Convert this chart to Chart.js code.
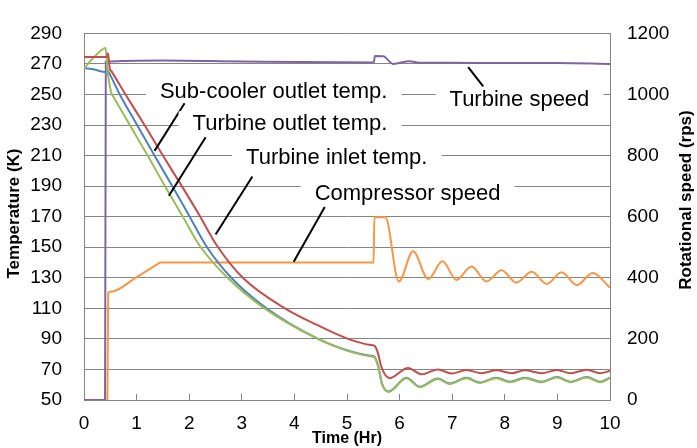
<!DOCTYPE html>
<html>
<head>
<meta charset="utf-8">
<script src="https://cdn.jsdelivr.net/npm/chart.js@4.4.1/dist/chart.umd.min.js"></script>
<style>
  html, body { margin: 0; padding: 0; background: #fff; }
  #wrap { width: 697px; height: 448px; position: relative; }
</style>
</head>
<body>
<div id="wrap"><canvas id="myChart"></canvas></div>
<script>
// [time (Hr), temperature (K)]
const subCoolerOutlet = [
  [0, 274.5], [0.43, 274.5], [0.455, 277], [0.49, 267], [0.52, 265.3], [0.79, 250],
  [1.15, 230], [1.5, 210], [1.86, 190], [2.21, 170], [2.51, 152], [3.02, 130],
  [3.82, 110], [4.42, 99.3], [5.02, 90], [5.45, 86], [5.53, 85.3], [5.59, 80.5],
  [5.65, 72], [5.81, 64.3], [6.16, 71], [6.42, 66.8], [6.73, 70], [6.99, 67.3],
  [7.27, 69.6], [7.56, 67.5], [7.84, 69.4], [8.13, 67.5], [8.38, 69.4], [8.7, 67.5],
  [8.99, 69.6], [9.25, 67.5], [9.56, 69.8], [9.81, 67.5], [10, 69]
];
const turbineOutlet = [
  [0, 267.3], [0.2, 266.3], [0.41, 264.7], [0.45, 265.8], [0.5, 262.7], [0.68, 250],
  [1.01, 230], [1.34, 210], [1.68, 190], [2.01, 170], [2.32, 151], [2.8, 130],
  [3.47, 110], [4.45, 90], [5.0, 82.6], [5.45, 79], [5.52, 78.4], [5.6, 71.3],
  [5.66, 61.3], [5.79, 55.6], [6.13, 64.6], [6.38, 58.7], [6.73, 64], [6.95, 60.8],
  [7.27, 64.6], [7.52, 61.5], [7.84, 64.6], [8.1, 61.9], [8.38, 64.6], [8.7, 61.9],
  [8.99, 65], [9.25, 61.9], [9.56, 65], [9.81, 61.9], [10, 64.6]
];
const turbineInlet = [
  [0, 267], [0.1, 271], [0.25, 276.5], [0.41, 280.5], [0.45, 265], [0.52, 251],
  [0.56, 248.6], [0.87, 230], [1.21, 210], [1.54, 190], [1.88, 170], [2.2, 151],
  [2.73, 130], [3.43, 110], [4.45, 90], [5.0, 82.3], [5.45, 78.6], [5.52, 78],
  [5.6, 71], [5.66, 61], [5.79, 55.3], [6.13, 64.3], [6.38, 58.4], [6.73, 63.7],
  [6.95, 60.5], [7.27, 64.3], [7.52, 61.2], [7.84, 64.3], [8.1, 61.6], [8.38, 64.3],
  [8.7, 61.6], [8.99, 64.7], [9.25, 61.6], [9.56, 64.7], [9.81, 61.6], [10, 64.3]
];
// [time (Hr), rotational speed (rps)]
const turbineSpeed = [
  [0, 0], [0.4, 0], [0.415, 1107], [1.5, 1111], [3, 1108], [5.51, 1105], [5.53, 1126],
  [5.69, 1125], [5.88, 1100], [6.19, 1109], [6.38, 1104], [7, 1104], [8, 1103],
  [9, 1103], [10, 1100]
];
const compressorSpeed = [
  [0, 0], [0.445, 0], [0.46, 350], [0.5, 354], [1.0, 402], [1.4, 445], [1.45, 450],
  [5.505, 450], [5.52, 598], [5.73, 598], [5.985, 388], [6.257, 487], [6.543, 396],
  [6.816, 454], [7.08, 393], [7.368, 437], [7.65, 388], [7.94, 425], [8.22, 384],
  [8.51, 420], [8.8, 380], [9.08, 418], [9.37, 376], [9.67, 416], [10, 368]
];

// text, text baseline position, leader line [from, to] — in (Hr, K)
const callouts = [
  { text: "Sub-cooler outlet temp.", at: [3.606, 247.7], line: [[1.912, 244.3], [1.342, 213.1]] },
  { text: "Turbine outlet temp.", at: [3.917, 226.6], line: [[2.312, 222.0], [1.614, 183.7]] },
  { text: "Turbine inlet temp.", at: [4.805, 204.5], line: [[3.201, 196.3], [2.502, 158.4]] },
  { text: "Compressor speed", at: [6.152, 180.7], line: [[4.577, 176.3], [3.987, 140.5]] },
  { text: "Turbine speed", at: [8.278, 242.5], line: [[7.304, 267.9], [7.589, 255.3]] }
];

const FONT = '"Liberation Sans", Arial, sans-serif';
const gridColor = "#858585";
Chart.defaults.font.family = FONT;
Chart.defaults.color = "#000";

const toXY = (arr) => arr.map(([x, y]) => ({ x, y }));

const calloutPlugin = {
  id: "callouts",
  afterDatasetsDraw(chart) {
    const { ctx } = chart;
    const x = chart.scales.x, y = chart.scales.y;
    ctx.save();
    ctx.font = "22px " + FONT;
    ctx.textAlign = "center";
    ctx.textBaseline = "alphabetic";
    callouts.forEach((c) => {
      const cx = x.getPixelForValue(c.at[0]);
      const by = y.getPixelForValue(c.at[1]);
      const w = ctx.measureText(c.text).width + 28;
      ctx.fillStyle = "#fff";
      ctx.fillRect(cx - w / 2, by - 19, w, 25);
      ctx.fillStyle = "#000";
      ctx.fillText(c.text, cx, by);
      ctx.beginPath();
      ctx.moveTo(x.getPixelForValue(c.line[0][0]), y.getPixelForValue(c.line[0][1]));
      ctx.lineTo(x.getPixelForValue(c.line[1][0]), y.getPixelForValue(c.line[1][1]));
      ctx.lineWidth = 2;
      ctx.strokeStyle = "#000";
      ctx.stroke();
    });

    // axis titles, both reading bottom to top
    ctx.font = "bold 17px " + FONT;
    ctx.fillStyle = "#000";
    [["Temperature (K)", 18.5, 213.5], ["Rotational speed (rps)", 691, 200]].forEach(([t, bx, cy]) => {
      ctx.save();
      ctx.translate(bx, cy);
      ctx.rotate(-Math.PI / 2);
      ctx.fillText(t, 0, 0);
      ctx.restore();
    });
    ctx.restore();
  }
};

new Chart(document.getElementById("myChart"), {
  type: "line",
  data: {
    datasets: [
      { label: "Sub-cooler outlet temp.", data: toXY(subCoolerOutlet), borderColor: "#c0504d", yAxisID: "y", order: 1 },
      { label: "Turbine inlet temp.", data: toXY(turbineInlet), borderColor: "#9bbb59", yAxisID: "y", order: 2 },
      { label: "Turbine outlet temp.", data: toXY(turbineOutlet), borderColor: "#4f81bd", yAxisID: "y", order: 3 },
      { label: "Turbine speed", data: toXY(turbineSpeed), borderColor: "#8064a2", yAxisID: "y1", order: 4 },
      { label: "Compressor speed", data: toXY(compressorSpeed), borderColor: "#f79646", yAxisID: "y1", order: 5 }
    ]
  },
  options: {
    responsive: true,
    maintainAspectRatio: false,
    animation: false,
    layout: { padding: { top: 20, left: 0, right: 0, bottom: 0 } },
    elements: {
      line: { borderWidth: 2, cubicInterpolationMode: "monotone", fill: false },
      point: { radius: 0 }
    },
    plugins: { legend: { display: false }, tooltip: { enabled: false } },
    scales: {
      x: {
        type: "linear",
        min: 0,
        max: 10,
        ticks: { stepSize: 1, font: { size: 19 }, padding: 18 },
        grid: { drawOnChartArea: false, tickLength: -6, color: gridColor },
        border: { color: gridColor },
        title: { display: true, text: "Time (Hr)", font: { size: 16, weight: "bold" }, padding: 0 },
        afterFit: (s) => { s.height = 48; }
      },
      y: {
        position: "left",
        min: 50,
        max: 290,
        ticks: { stepSize: 20, font: { size: 19 }, padding: 22 },
        grid: { color: gridColor, drawTicks: false },
        border: { color: gridColor },
        afterFit: (s) => { s.width = 84; }
      },
      y1: {
        position: "right",
        min: 0,
        max: 1200,
        ticks: { stepSize: 200, font: { size: 19 }, padding: 17, callback: (v) => String(v) },
        grid: { drawOnChartArea: false, drawTicks: false },
        border: { color: gridColor },
        afterFit: (s) => { s.width = 87; }
      }
    }
  },
  plugins: [calloutPlugin]
});
</script>
</body>
</html>
